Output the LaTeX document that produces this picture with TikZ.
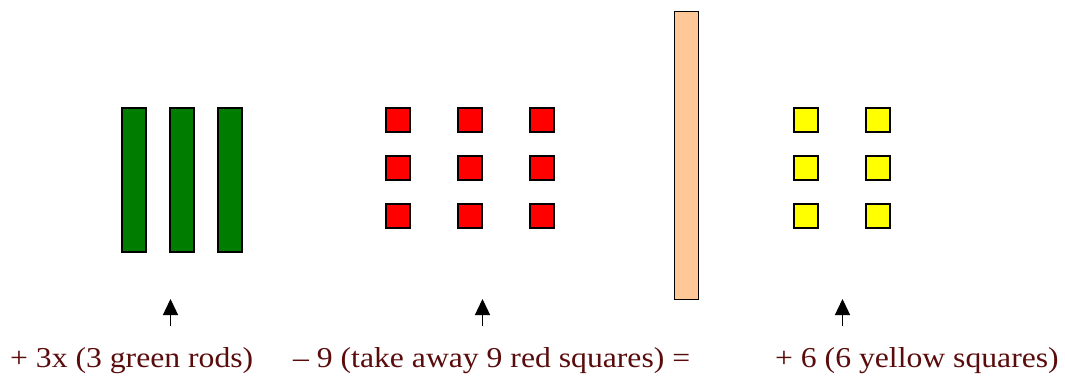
\documentclass[tikz,border=0pt]{standalone}
\usepackage{fontspec}
\setmainfont[FakeStretch=1.1]{Liberation Serif}
\usetikzlibrary{arrows.meta}
\definecolor{rodgreen}{RGB}{0,125,0}
\definecolor{sqred}{RGB}{255,0,0}
\definecolor{sqyellow}{RGB}{255,255,0}
\definecolor{rodpeach}{RGB}{255,200,150}
\definecolor{labelred}{RGB}{90,12,12}
\tikzset{
    tile/.style={draw=black, line width=1.3pt, inner sep=0pt, outer sep=0pt},
    greenrod/.style={tile, fill=rodgreen, minimum width=24pt, minimum height=144pt},
    redsq/.style={tile, fill=sqred, minimum size=24pt},
    yellowsq/.style={tile, fill=sqyellow, minimum size=24pt},
    peachrod/.style={tile, fill=rodpeach, minimum width=24pt, minimum height=288pt},
    eqlabel/.style={anchor=base west, inner sep=0pt, text=labelred, font=\fontsize{28.8}{32}\selectfont},
    uparrow/.style={-{Triangle[length=16pt, width=15pt]}, line width=1.4pt}
}
\begin{document}
\begin{tikzpicture}[x=1pt, y=-1pt]
    \useasboundingbox (0,0) rectangle (1065,375);

    % 绿色长条 (3x)
    \node[greenrod] (g1) at (134,180) {};
    \node[greenrod] (g2) at (182,180) {};
    \node[greenrod] (g3) at (230,180) {};

    % 红色小方块 (-9)
    \node[redsq] (r11) at (398,120) {}; \node[redsq] (r12) at (470,120) {}; \node[redsq] (r13) at (542,120) {};
    \node[redsq] (r21) at (398,168) {}; \node[redsq] (r22) at (470,168) {}; \node[redsq] (r23) at (542,168) {};
    \node[redsq] (r31) at (398,216) {}; \node[redsq] (r32) at (470,216) {}; \node[redsq] (r33) at (542,216) {};

    % 等号处的长条
    \node[peachrod] (eq) at (686.5,155.5) {};

    % 黄色小方块 (+6)
    \node[yellowsq] (y11) at (806,120) {}; \node[yellowsq] (y12) at (878,120) {};
    \node[yellowsq] (y21) at (806,168) {}; \node[yellowsq] (y22) at (878,168) {};
    \node[yellowsq] (y31) at (806,216) {}; \node[yellowsq] (y32) at (878,216) {};

    % 文字说明
    \node[eqlabel] (lgreen) at (10,367) {+ 3x (3 green rods)};
    \node[eqlabel] (lred) at (293,367) {– 9 (take away 9 red squares) =};
    \node[eqlabel] (lyellow) at (775,367) {+ 6 (6 yellow squares)};

    % 箭头
    \coordinate (a1) at (170.5,326); \coordinate (b1) at (170.5,299);
    \coordinate (a2) at (482.5,326); \coordinate (b2) at (482.5,299);
    \coordinate (a3) at (842.5,326); \coordinate (b3) at (842.5,299);
    \draw[uparrow] (a1) -- (b1);
    \draw[uparrow] (a2) -- (b2);
    \draw[uparrow] (a3) -- (b3);
\end{tikzpicture}
\end{document}
